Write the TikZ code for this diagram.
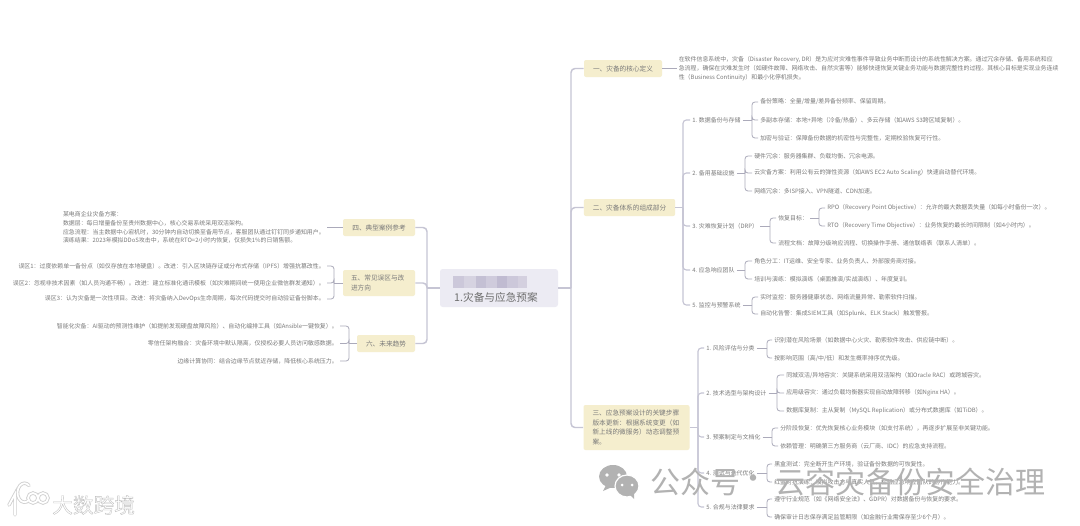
\documentclass[tikz,border=0pt]{standalone}
\usepackage{fontspec}
\setmainfont{Noto Sans CJK SC}
\newfontfamily\wmfont{Noto Sans CJK SC}
\definecolor{ink}{HTML}{7A7A7A}
\definecolor{branch}{HTML}{C6C5D4}
\definecolor{twig}{HTML}{ABAABA}
\definecolor{sand}{HTML}{F5EECE}
\definecolor{rootfill}{HTML}{ECEBF3}
\definecolor{wm}{HTML}{B2B2B2}
\tikzset{
 tx/.style={inner sep=1.5pt,text=ink,font=\fontsize{4.45}{6.5}\selectfont,align=left},
 lv2/.style={tx,font=\fontsize{4.45}{6.5}\selectfont},
 topic/.style={fill=sand,rounded corners=1.5pt,inner sep=0pt,text=ink,font=\fontsize{5}{7}\selectfont},
 conn/.style={draw=twig,line width=0.6pt,rounded corners=2.2pt},
 trunk/.style={draw=branch,line width=1.1pt,rounded corners=3pt},
 mid/.style={draw=branch,line width=0.85pt,rounded corners=2.5pt},
 wmtext/.style={text=wm,inner sep=0pt,font=\wmfont\fontsize{22.5}{26}\selectfont},
}
% right-growing text node, text begins at x
\newcommand\tr[4]{\node[tx,anchor=west] (#1) at (#2-2,#3) {#4};}
\newcommand\trb[4]{\node[lv2,anchor=west] (#1) at (#2-2,#3) {#4};}
% left-growing text node, text ends at x
\newcommand\tl[4]{\node[tx,anchor=east,align=right] (#1) at (#2+2,#3) {#4};}
% bracket to the right: parent, bracket x, children
\newcommand\brk[4][conn]{%
 \coordinate (bx#2) at (#3,0);
 \draw[#1] (#2.east) -- (#2.east -| bx#2);
 \foreach \kid in {#4} {\draw[#1] (#2.east -| bx#2) |- (\kid.west);}
}
% bracket to the left
\newcommand\brl[4][conn]{%
 \coordinate (bx#2) at (#3,0);
 \draw[#1] (#2.west) -- (#2.west -| bx#2);
 \foreach \kid in {#4} {\draw[#1] (#2.west -| bx#2) |- (\kid.east);}
}
\begin{document}
\begin{tikzpicture}[x=0.75pt,y=-0.75pt]
\useasboundingbox[fill=white] (0,0) rectangle (1080,525);

% root
\node[fill=rootfill,rounded corners=2pt,minimum width=88.5pt,minimum height=28.5pt,inner sep=0pt] (root) at (499,288) {};
\foreach \xa/\xb/\shade in {453/464/CCC8DA,464/476/D6D3E1,476/486/C4C0D4,486/497/CFCBDC,497/507/C0BBD1,507/518/CCC8DA,518/527/D4D0DF}
 {\definecolor{tmp}{HTML}{\shade}\fill[tmp] (\xa,275.5) rectangle (\xb,287.5);}
\node[text=ink!90!black,font=\fontsize{8}{10}\selectfont,inner sep=0pt] (rootlabel) at (496,297) {1.灾备与应急预案};

% first level, right
\node[topic,minimum width=58.5pt,minimum height=12.75pt] (t1) at (623,68.5) {一、灾备的核心定义};
\node[topic,minimum width=68.5pt,minimum height=12.75pt] (t2) at (629.5,207.5) {二、灾备体系的组成部分};
\node[topic,minimum width=79.5pt,minimum height=33.75pt,align=left,text width=66pt,font=\fontsize{5}{7.1}\selectfont] (t3) at (636.5,427.5) {三、应急预案设计的关键步骤\\版本更新：根据系统变更（如\\新上线的微服务）动态调整预\\案。};
% first level, left
\node[topic,minimum width=54pt,minimum height=12.75pt] (t4) at (379,227.5) {四、典型案例参考};
\node[topic,minimum width=54pt,minimum height=19.5pt,align=left,text width=42pt,font=\fontsize{5}{8}\selectfont] (t5) at (379,283) {五、常见误区与改\\进方向};
\node[topic,minimum width=43.5pt,minimum height=12.75pt] (t6) at (386,343.5) {六、未来趋势};

\coordinate (rt) at (571,0);
\coordinate (lt) at (427,0);
\draw[trunk] (root.east) -- (root.east -| rt);
\foreach \n in {t1,t2,t3} {\draw[trunk] (root.east -| rt) |- (\n.west);}
\draw[trunk] (root.west) -- (root.west -| lt);
\foreach \n in {t4,t5,t6} {\draw[trunk] (root.west -| lt) |- (\n.east);}

% definition
\node[tx,anchor=west] (def) at (676.5,68.5) {在软件信息系统中，灾备（Disaster Recovery, DR）是为应对灾难性事件导致业务中断而设计的系统性解决方案。通过冗余存储、备用系统和应\\急流程，确保在灾难发生时（如硬件故障、网络攻击、自然灾害等）能够快速恢复关键业务功能与数据完整性的过程。其核心目标是实现业务连续\\性（Business Continuity）和最小化停机损失。};
\draw[conn] (t1.east) -- (def.west);

% section two
\trb{a1}{692}{120}{1. 数据备份与存储}
\trb{a2}{692}{173}{2. 备用基础设施}
\trb{a3}{692}{226}{3. 灾难恢复计划（DRP）}
\trb{a4}{692}{270}{4. 应急响应团队}
\trb{a5}{692}{305}{5. 监控与预警系统}
\brk[mid]{t2}{683}{a1,a2,a3,a4,a5}

\tr{a11}{760}{102}{备份策略：全量/增量/差异备份频率、保留周期。}
\tr{a12}{760}{120}{多副本存储：本地+异地（冷备/热备）、多云存储（如AWS S3跨区域复制）。}
\tr{a13}{760}{138}{加密与验证：保障备份数据的机密性与完整性，定期校验恢复可行性。}
\brk{a1}{752}{a11,a12,a13}
\tr{a21}{754}{156}{硬件冗余：服务器集群、负载均衡、冗余电源。}
\tr{a22}{754}{173}{云灾备方案：利用公有云的弹性资源（如AWS EC2 Auto Scaling）快速启动替代环境。}
\tr{a23}{754}{191}{网络冗余：多ISP接入、VPN隧道、CDN加速。}
\brk{a2}{745}{a21,a22,a23}
\tr{a31}{778}{218}{恢复目标：}
\tr{a32}{778}{243}{流程文档：故障分级响应流程、切换操作手册、通信联络表（联系人清单）。}
\brk{a3}{770}{a31,a32}
\tr{a311}{827}{208}{RPO（Recovery Point Objective）：允许的最大数据丢失量（如每小时备份一次）。}
\tr{a312}{827}{226}{RTO（Recovery Time Objective）：业务恢复的最长时间限制（如4小时内）。}
\brk{a31}{819}{a311,a312}
\tr{a41}{754}{261}{角色分工：IT运维、安全专家、业务负责人、外部服务商对接。}
\tr{a42}{754}{279}{培训与演练：模拟演练（桌面推演/实战演练）、年度复训。}
\brk{a4}{745}{a41,a42}
\tr{a51}{760}{297}{实时监控：服务器健康状态、网络流量异常、勒索软件扫描。}
\tr{a52}{760}{314}{自动化告警：集成SIEM工具（如Splunk、ELK Stack）触发警报。}
\brk{a5}{752}{a51,a52}

% section three
\trb{b1}{706}{348}{1. 风险评估与分类}
\trb{b2}{706}{393}{2. 技术选型与架构设计}
\trb{b3}{706}{437}{3. 预案制定与文档化}
\trb{b4}{706}{473}{4. 测试与迭代优化}
\trb{b5}{706}{507}{5. 合规与法律要求}
\brk[mid]{t3}{698}{b1,b2,b3,b4,b5}

\tr{b11}{774}{340}{识别潜在风险场景（如数据中心火灾、勒索软件攻击、供应链中断）。}
\tr{b12}{774}{358}{按影响范围（高/中/低）和发生概率排序优先级。}
\brk{b1}{767}{b11,b12}
\tr{b21}{786}{375}{同城双活/异地容灾：关键系统采用双活架构（如Oracle RAC）或跨城容灾。}
\tr{b22}{786}{393}{应用级容灾：通过负载均衡器实现自动故障转移（如Nginx HA）。}
\tr{b23}{786}{411}{数据库复制：主从复制（MySQL Replication）或分布式数据库（如TiDB）。}
\brk{b2}{777}{b21,b22,b23}
\tr{b31}{780}{428}{分阶段恢复：优先恢复核心业务模块（如支付系统），再逐步扩展至非关键功能。}
\tr{b32}{780}{446}{依赖管理：明确第三方服务商（云厂商、IDC）的应急支持流程。}
\brk{b3}{772}{b31,b32}
\tr{b41}{774}{464}{黑盒测试：完全断开生产环境，验证备份数据的可恢复性。}
\tr{b42}{774}{482}{红蓝对抗演练：模拟攻击方与真实人员，检验应急响应团队的协作能力。}
\brk{b4}{767}{b41,b42}
\tr{b51}{774}{499}{遵守行业规范（如《网络安全法》、GDPR）对数据备份与恢复的要求。}
\tr{b52}{774}{517}{确保审计日志保存满足监管期限（如金融行业需保存至少6个月）。}
\brk{b5}{767}{b51,b52}

% left side
\node[tx,anchor=east,align=left] (case) at (327,227.5) {某电商企业灾备方案：\\数据层：每日增量备份至贵州数据中心，核心交易系统采用双活架构。\\应急流程：当主数据中心宕机时，30分钟内自动切换至备用节点，客服团队通过钉钉同步通知用户。\\演练结果：2023年模拟DDoS攻击中，系统在RTO=2小时内恢复，仅损失1\%的日销售额。};
\draw[conn] (t4.west) -- (case.east);

\tl{c1}{325}{266}{误区1：过度依赖单一备份点（如仅存放在本地硬盘）。改进：引入区块链存证或分布式存储（IPFS）增强抗篡改性。}
\tl{c2}{325}{283}{误区2：忽视非技术因素（如人员沟通不畅）。改进：建立标准化通讯模板（如灾难期间统一使用企业微信群发通知）。}
\tl{c3}{325}{299}{误区3：认为灾备是一次性项目。改进：将灾备纳入DevOps生命周期，每次代码提交时自动验证备份脚本。}
\brl{t5}{334}{c1,c2,c3}
\tl{d1}{338}{326}{智能化灾备：AI驱动的预测性维护（如提前发现硬盘故障风险）、自动化编排工具（如Ansible一键恢复）。}
\tl{d2}{338}{343.5}{零信任架构融合：灾备环境中默认隔离，仅授权必要人员访问敏感数据。}
\tl{d3}{338}{361}{边缘计算协同：结合边缘节点就近存储，降低核心系统压力。}
\brl{t6}{349}{d1,d2,d3}

% public-account watermark
\fill[wm] (613,476.5) ellipse (14 and 11.5);
\fill[wm] (606,485) -- (603,491) -- (612,487) -- cycle;
\fill[wm,draw=white,line width=0.9pt] (627,486) ellipse (12 and 11);
\fill[wm] (630,495) -- (634,499) -- (634,492) -- cycle;
\fill[white] (607,475) circle (1.8) (619,475) circle (1.8) (622,485) circle (1.5) (632,485) circle (1.5);
\node[anchor=west,wmtext] (wm1) at (650,482) {公众号};
\node[wmtext] (wm2) at (753,482) {·};
\node[anchor=west,wmtext] (wm3) at (775,482) {云容灾备份安全治理};

% corner watermark
\definecolor{halo}{HTML}{D0D0D0}
\node[anchor=west,text=white,inner sep=0pt,font=\fontsize{15.5}{17}\selectfont] (brand) at (52,505) {\special{pdf:code q 2 Tr 0.28 w 0.75 G}大数跨境\special{pdf:code Q}};
\foreach \col/\wid in {halo/2.6pt,white/1.3pt}{
 \draw[\col,line width=\wid,line cap=round] (9,505) -- (15,494) -- (15,515);
 \draw[\col,line width=\wid,line cap=round] (29,500) arc (50:310:7 and 9.5);
 \draw[\col,line width=\wid] (33,498) circle (5) (43,498) circle (5);
}
\end{tikzpicture}
\end{document}
